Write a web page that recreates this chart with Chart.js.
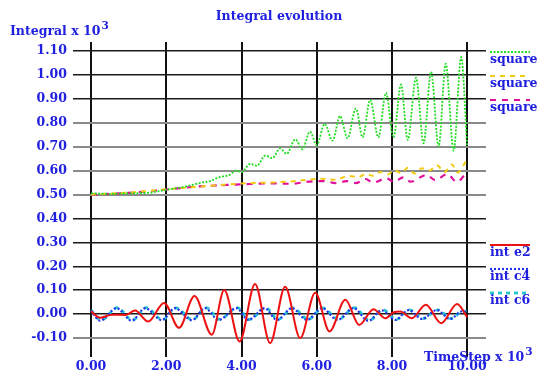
<!DOCTYPE html>
<html>
<head>
<meta charset="utf-8">
<title>Integral evolution</title>
<script src="https://cdn.jsdelivr.net/npm/chart.js@4"></script>
<style>
  html, body { margin: 0; padding: 0; background: #fff; }
  canvas { display: block; }
</style>
</head>
<body>
<canvas id="chart" width="539" height="375"></canvas>
<script>
// time step axis (x 10^3) and integral axis (x 10^3)
const xTicks = [0, 2, 4, 6, 8, 10];
const yTicks = [-0.1, 0, 0.1, 0.2, 0.3, 0.4, 0.5, 0.6, 0.7, 0.8, 0.9, 1.0, 1.1];

const seriesNames = ['square e2', 'square c4', 'square c6', 'int e2', 'int c4', 'int c6'];

// square e2 (turning points of the curve)
const sqE2X = [0, 0.5, 1.0, 1.5, 2.0, 2.5, 2.94, 3.2, 3.39, 3.65, 3.87, 4.0, 4.23, 4.41, 4.63, 4.82,
  5.03, 5.2, 5.43, 5.62, 5.82, 6.0, 6.21, 6.42, 6.62, 6.82, 7.04, 7.22, 7.42, 7.64, 7.84, 8.04,
  8.24, 8.42, 8.64, 8.84, 9.04, 9.24, 9.43, 9.64, 9.84, 10.0];
const sqE2Y = [0.505, 0.503, 0.505, 0.507, 0.52, 0.533, 0.55, 0.558, 0.572, 0.58, 0.6, 0.593, 0.628, 0.62, 0.663, 0.652,
  0.693, 0.67, 0.731, 0.689, 0.763, 0.707, 0.795, 0.725, 0.828, 0.735, 0.86, 0.739, 0.895, 0.739, 0.925, 0.739,
  0.96, 0.728, 0.988, 0.714, 1.013, 0.70, 1.047, 0.683, 1.075, 0.70];

// square c4
const sqC4X = [0, 1.0, 2.0, 2.8, 3.6, 4.3, 4.8, 5.4, 6.1, 6.5, 6.85, 7.1, 7.3, 7.5, 7.7, 7.9, 8.05,
  8.25, 8.42, 8.6, 8.8, 9.0, 9.19, 9.4, 9.59, 9.75, 9.97];
const sqC4Y = [0.500, 0.508, 0.522, 0.532, 0.542, 0.548, 0.550, 0.556, 0.566, 0.562, 0.578, 0.572, 0.586, 0.578, 0.594, 0.584, 0.602,
  0.590, 0.612, 0.588, 0.610, 0.600, 0.622, 0.594, 0.626, 0.592, 0.640];

// square c6
const sqC6X = [0, 1.0, 2.0, 2.8, 3.6, 4.3, 4.8, 5.3, 5.8, 6.2, 6.5, 6.8, 7.05, 7.3, 7.5, 7.86, 8.05,
  8.3, 8.5, 8.92, 9.15, 9.47, 9.73, 9.97];
const sqC6Y = [0.500, 0.507, 0.521, 0.533, 0.540, 0.544, 0.547, 0.545, 0.554, 0.556, 0.548, 0.556, 0.548, 0.565, 0.550, 0.568, 0.553,
  0.572, 0.554, 0.582, 0.560, 0.585, 0.552, 0.590];

// int e2
const intE2X = [0, 0.24, 0.55, 0.92, 1.17, 1.52, 1.94, 2.34, 2.75, 3.21, 3.54, 3.95, 4.36, 4.76, 5.16, 5.56,
  5.96, 6.34, 6.76, 7.13, 7.51, 7.82, 8.05, 8.22, 8.53, 8.9, 9.31, 9.73, 10.0];
const intE2Y = [0.012, -0.015, -0.002, -0.003, 0.015, -0.031, 0.047, -0.057, 0.076, -0.086, 0.101, -0.114, 0.126, -0.121, 0.115, -0.100,
  0.090, -0.072, 0.060, -0.045, 0.021, -0.017, 0.008, 0.011, -0.017, 0.039, -0.038, 0.043, -0.012];

// int c4
const intC4X = [0, 0.24, 0.68, 1.08, 1.44, 1.88, 2.23, 2.68, 3.03, 3.39, 3.87, 4.18, 4.62, 4.94, 5.34, 5.74,
  6.14, 6.55, 6.98, 7.37, 7.73, 8.09, 8.44, 8.8, 9.19, 9.55, 9.86, 10.0];
const intC4Y = [0.015, -0.027, 0.025, -0.027, 0.025, -0.025, 0.025, -0.025, 0.025, -0.024, 0.025, -0.024, 0.025, -0.024, 0.025, -0.024,
  0.025, -0.024, 0.025, -0.028, 0.016, -0.024, 0.017, -0.020, 0.017, -0.020, 0.012, 0.008];

// int c6
const intC6X = [0, 0.27, 0.7, 1.1, 1.47, 1.9, 2.26, 2.7, 3.06, 3.42, 3.89, 4.21, 4.65, 4.97, 5.37, 5.77,
  6.16, 6.58, 7.0, 7.4, 7.76, 8.12, 8.47, 8.83, 9.22, 9.58, 9.89, 10.0];
const intC6Y = [0.016, -0.025, 0.027, -0.025, 0.027, -0.023, 0.026, -0.023, 0.027, -0.022, 0.027, -0.022, 0.026, -0.022, 0.026, -0.022,
  0.026, -0.022, 0.027, -0.026, 0.018, -0.022, 0.018, -0.018, 0.018, -0.018, 0.014, 0.010];

const BLUE = '#2020e0';
const FONT = "'DejaVu Serif', 'Liberation Serif', serif";

function pts(xs, ys) {
  return xs.map((x, i) => ({ x: x, y: ys[i] }));
}

function series(i, xs, ys, color, width, dash) {
  return {
    label: seriesNames[i],
    data: pts(xs, ys),
    borderColor: color,
    borderWidth: width,
    borderDash: dash,
    pointRadius: 0,
    fill: false,
    cubicInterpolationMode: 'monotone'
  };
}

// titles and the two legend columns on the right
const decorations = {
  id: 'decorations',
  afterDraw(chart) {
    const ctx = chart.ctx;
    ctx.save();
    ctx.fillStyle = BLUE;
    ctx.textBaseline = 'alphabetic';
    ctx.font = 'bold 12.5px ' + FONT;

    ctx.textAlign = 'center';
    ctx.fillText('Integral evolution', 279, 20);

    ctx.textAlign = 'left';
    withPower(ctx, 'Integral x 10', '3', 10, 35);
    withPower(ctx, 'TimeStep x 10', '3', 424, 361);

    chart.data.datasets.forEach((ds, i) => {
      const lineY = i < 3 ? 52 + i * 24 : 245 + (i - 3) * 24;
      ctx.save();
      ctx.strokeStyle = ds.borderColor;
      ctx.lineWidth = ds.borderWidth;
      ctx.setLineDash(ds.borderDash || []);
      ctx.beginPath();
      ctx.moveTo(490, lineY);
      ctx.lineTo(530, lineY);
      ctx.stroke();
      ctx.restore();
      ctx.fillText(ds.label, 490, lineY + 11);
    });
    ctx.restore();
  }
};

function withPower(ctx, base, power, x, y) {
  ctx.font = 'bold 12.5px ' + FONT;
  ctx.fillText(base, x, y);
  const w = ctx.measureText(base).width;
  ctx.font = 'bold 10.5px ' + FONT;
  ctx.fillText(power, x + w + 1, y - 6);
  ctx.font = 'bold 12.5px ' + FONT;
}

const grayLines = [0.5, 0.6, 0.7, 0.8, -0.1];

new Chart(document.getElementById('chart'), {
  type: 'line',
  data: {
    datasets: [
      series(0, sqE2X, sqE2Y, '#22dd22', 1.8, [2, 1.5]),
      series(1, sqC4X, sqC4Y, '#f0cc10', 2, [5, 5]),
      series(2, sqC6X, sqC6Y, '#e0109a', 2.2, [6, 6]),
      series(3, intE2X, intE2Y, '#ee1111', 2, []),
      series(4, intC4X, intC4Y, '#2233ee', 2.2, [2, 2]),
      series(5, intC6X, intC6Y, '#22c4d0', 2.8, [4, 4])
    ]
  },
  options: {
    responsive: false,
    animation: false,
    devicePixelRatio: 1,
    layout: { padding: { top: 42, right: 53, left: 0, bottom: 0 } },
    plugins: {
      legend: { display: false },
      title: { display: false },
      tooltip: { enabled: false }
    },
    scales: {
      x: {
        type: 'linear',
        min: -0.48,
        max: 10.5,
        afterBuildTicks: (s) => { s.ticks = xTicks.map(v => ({ value: v })); },
        afterFit: (s) => { s.height = 18; },
        border: { display: false },
        grid: { color: '#111', lineWidth: 2, drawTicks: false },
        ticks: {
          padding: 2,
          color: BLUE,
          font: { family: FONT, size: 12.5, weight: 'bold' },
          callback: (v) => v.toFixed(2)
        }
      },
      y: {
        type: 'linear',
        min: -0.179,
        max: 1.1375,
        afterBuildTicks: (s) => { s.ticks = yTicks.map(v => ({ value: v })); },
        afterFit: (s) => { s.width = 73; },
        border: { display: false },
        grid: {
          drawTicks: false,
          color: (c) => grayLines.some(g => Math.abs(g - c.tick.value) < 1e-6) ? '#8a8a8a' : '#1a1a1a',
          lineWidth: (c) => grayLines.some(g => Math.abs(g - c.tick.value) < 1e-6) ? 2 : 1.5
        },
        ticks: {
          padding: 6,
          color: BLUE,
          font: { family: FONT, size: 12.5, weight: 'bold' },
          callback: (v) => v.toFixed(2)
        }
      }
    }
  },
  plugins: [decorations]
});
</script>
</body>
</html>
